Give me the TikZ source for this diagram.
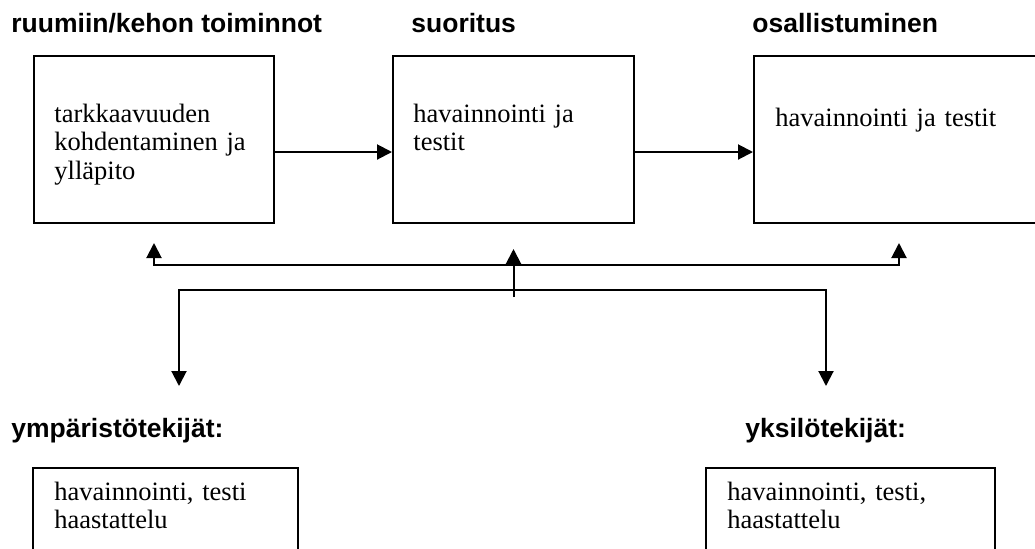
\documentclass[tikz,border=0pt]{standalone}
\usepackage{fontspec}
\usepackage{tikz}
\setmainfont{Liberation Serif}
\newfontfamily\headfont{Liberation Sans}
\usetikzlibrary{calc}
\usetikzlibrary{arrows.meta}

\begin{document}
\begin{tikzpicture}[x=0.5pt, y=-0.5pt]
    \tikzset{ box/.style={draw=black, line width=1pt, minimum height=83.5pt, inner sep=0pt} }
    \tikzset{ lowbox/.style={draw=black, line width=1pt, minimum height=60pt, inner sep=0pt} }
    \tikzset{ txt/.style={anchor=base west, inner sep=0pt, text width=140pt, align=left, font=\fontsize{13.25}{14.35}\selectfont} }
    \tikzset{ hdr/.style={anchor=base west, inner sep=0pt, font=\fontsize{13.25}{15}\selectfont\headfont\bfseries} }
    \tikzset{ con/.style={line width=1pt, ->, >={Triangle[length=7.5pt, width=7.5pt]}} }

    \useasboundingbox (0,0) rectangle (1035,548);
    \clip (0,0) rectangle (1035,548);

    % headings
    \node[hdr] (h1) at (11,32)   {ruumiin/kehon toiminnot};
    \node[hdr] (h2) at (411,32)  {suoritus};
    \node[hdr] (h3) at (752,32)  {osallistuminen};
    \node[hdr] (h4) at (11,437)  {ympäristötekijät:};
    \node[hdr] (h5) at (745,437) {yksilötekijät:};

    % boxes
    \node[box, minimum width=120pt]      (b1) at (154,139.5)   {};
    \node[box, minimum width=120.5pt]    (b2) at (513.5,139.5) {};
    \node[box, minimum width=145pt]      (b3) at (899,139.5)   {};
    \node[lowbox, minimum width=132.5pt] (b4) at (165.5,528)   {};
    \node[lowbox, minimum width=144.5pt] (b5) at (850.5,528)   {};

    \node[txt] (l1) at (54,122)  {tarkkaavuuden\\kohdentaminen ja\\ylläpito};
    \node[txt] (l2) at (413,122) {havainnointi ja\\testit};
    \node[txt] (l3) at (775,126) {havainnointi ja testit};
    \node[txt] (l4) at (54,500)  {havainnointi, testi\\haastattelu};
    \node[txt] (l5) at (727,500) {havainnointi, testi,\\haastattelu};

    \coordinate (upbus)  at (0,265);
    \coordinate (hub)    at ($(b2.south)+(0,73)$);
    \coordinate (lowL)   at (179,290);
    \coordinate (lowR)   at (826,290);
    \coordinate (envtip) at (179,386);
    \coordinate (indtip) at (826,386);

    \draw[con] ($(b1.east)+(0,12.5)$) -- ($(b2.west)+(0,12.5)$);
    \draw[con] ($(b2.east)+(0,12.5)$) -- ($(b3.west)+(0,12.5)$);

    \draw[con, <->] ($(b1.south)+(0,19)$) -- (b1.south |- upbus) -- (b3.south |- upbus) -- ($(b3.south)+(0,19)$);
    \draw[con] (hub) -- ($(b2.south)+(0,25)$);
    \draw[con, <->] (envtip) -- (lowL) -- (lowR) -- (indtip);
\end{tikzpicture}
\end{document}
